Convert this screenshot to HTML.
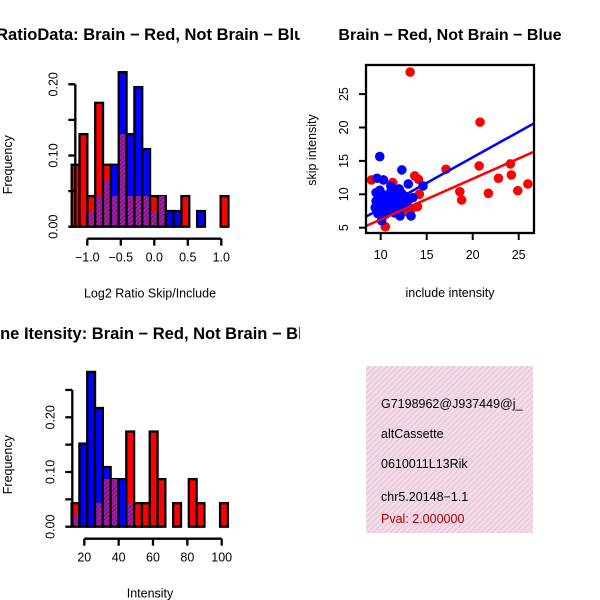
<!DOCTYPE html>
<html><head><meta charset="utf-8"><style>
html,body{margin:0;padding:0;background:#fff;}
svg{display:block;font-family:"Liberation Sans",sans-serif;}
</style></head><body>
<svg id="chart" width="600" height="600" xmlns="http://www.w3.org/2000/svg">
<defs>
<clipPath id="clipL"><rect x="0" y="0" width="300" height="600"/></clipPath>
<clipPath id="clipT"><rect x="366" y="366" width="167" height="167"/></clipPath>
<clipPath id="clipS"><rect x="366" y="65" width="168" height="168"/></clipPath>
<pattern id="hatch" width="4" height="4" patternUnits="userSpaceOnUse" patternTransform="rotate(45)">
<rect width="4" height="4" fill="#f8d8f4"/><rect width="1.3" height="4" fill="#dcd2c4"/></pattern>
<pattern id="purp" width="3" height="3" patternUnits="userSpaceOnUse" patternTransform="rotate(45)">
<rect width="3" height="3" fill="#a020a0"/><rect width="1" height="3" fill="#7a1090"/></pattern>
</defs>
<g id="g1"></g>
<g id="g2"></g>
<g id="g3"></g>
<g>
<rect x="366" y="366" width="167" height="167" fill="url(#hatch)"/>
<g clip-path="url(#clipT)" font-size="12.5">
<text x="381" y="408">G7198962@J937449@j_</text>
<text x="381" y="438">altCassette</text>
<text x="381" y="468">0610011L13Rik</text>
<text x="381" y="501">chr5.20148−1.1</text>
<text x="381" y="523" fill="#b00000">Pval: 2.000000</text>
</g></g>
</svg>
<script>
// ---- histogram 1 data (Log2 ratio) ----
const h1Start = -1.233, h1Width = 0.117;
const h1Red  = [0.087,0.13,0.043,0.174,0.087,0.043,0.13,0.043,0.043,0.043,0.043,0.043,0,0,0.043,0,0,0,0,0.043];
const h1Blue = [0,0,0.022,0.043,0.065,0.087,0.217,0.13,0.196,0.109,0.022,0.043,0.022,0.022,0,0,0.022,0,0,0];
const h1XTicks = [-1.0,-0.5,0.0,0.5,1.0];
const h1XLabels = ["−1.0","−0.5","0.0","0.5","1.0"];
const h1YTicks = [0,0.05,0.1,0.15,0.2];
const h1YLabels = ["0.00","","0.10","","0.20"];
// ---- histogram 2 data (intensity) ----
const h2Start = 12.6, h2Width = 4.55;
const h2Red  = [0.043,0,0,0.043,0.087,0.087,0,0.174,0.043,0.043,0.174,0.087,0,0.043,0,0.087,0.043,0,0,0.043];
const h2Blue = [0.022,0.152,0.283,0.217,0.109,0.087,0.087,0.043,0,0,0,0,0,0,0,0,0,0,0,0];
const h2XTicks = [20,40,60,80,100];
const h2YTicks = [0,0.05,0.1,0.15,0.2,0.25];
const h2YLabels = ["0.00","","0.10","","0.20",""];
// ---- scatter data ----
const redX = [13.2,20.8,17.1,20.7,24.1,22.8,24.2,21.7,24.9,26.0,18.6,18.8,13.7,14.1,9.0,11.3,14.2,14.0,13.4,10.5,12.8,11.8,12.2];
const redY = [28.3,20.8,13.75,14.25,14.55,12.4,12.9,10.15,10.55,11.55,10.4,9.15,12.75,12.25,12.15,11.75,10.0,8.15,7.9,5.15,7.4,8.5,9.0];
const blueX = [9.9,12.3,9.6,10.3,11.1,13.0,14.6,9.5,13.3,12.1,10.1,9.4,9.6,9.8,10.0,10.2,10.4,10.6,10.8,11.0,11.2,11.4,11.6,11.8,12.0,12.2,12.4,12.6,12.8,9.5,9.9,10.3,10.7,11.1,11.5,11.9,12.3,12.7,13.1,10.5,11.0,11.5,12.0,13.5,9.7,10.9];
const blueY = [15.65,13.65,12.4,12.15,11.25,11.55,11.25,10.25,6.75,6.75,6.05,8.0,7.5,8.5,9.2,7.8,8.8,9.6,8.2,9.9,7.6,9.0,10.2,8.4,9.4,7.9,8.9,9.7,8.3,9.0,10.6,9.9,7.3,10.4,9.6,7.7,10.1,8.7,9.3,7.0,8.6,7.2,10.8,9.5,7.1,9.2];
const redLine = [8.4,5.25,26.7,16.4];
const blueLine = [8.4,6.65,26.7,20.65];
const sXTicks = [10,15,20,25];
const sYTicks = [5,10,15,20,25];

const NS="http://www.w3.org/2000/svg";
function mk(parent,tag,attrs){const e=document.createElementNS(NS,tag);for(const k in attrs)e.setAttribute(k,attrs[k]);parent.appendChild(e);return e;}

function hist(g,opt){
  const {start,width,red,blue,x0,xPerUnit,y0,yPerUnit,xTicks,xLabels,yTicks,yLabels,title,xlab,titleY}=opt;
  const sx=v=>x0+(v-opt.xRef)*xPerUnit, sy=v=>y0-v*yPerUnit;
  const cl=mk(g,'g',{'clip-path':'url(#clipL)'});
  const t=mk(cl,'text',{x:opt.titleX,y:titleY,'text-anchor':'middle','font-size':'16.5','font-weight':'bold'});t.textContent=title;
  
  
  for(let i=0;i<red.length;i++){
    const xa=sx(start+i*width), xb=sx(start+(i+1)*width);
    const r=red[i], b=blue[i], hi=Math.max(r,b), lo=Math.min(r,b);
    if(hi>0){
      const bar=mk(g,'rect',{x:xa,y:sy(hi),width:xb-xa,height:sy(0)-sy(hi),fill:r>=b?'#ff0000':'#0000ff',stroke:'#000','stroke-width':2.3});
      
      
    }
    if(lo>0){
      const ov=mk(g,'rect',{x:xa+1.2,y:sy(lo),width:xb-xa-2.4,height:sy(0)-sy(lo)-1.2,fill:'url(#purp)'});
      
      
    }
  }
  const ax=x0-12;
  mk(g,'line',{x1:ax,x2:ax,y1:sy(yTicks[0]),y2:sy(yTicks[yTicks.length-1]),stroke:'#000','stroke-width':2.3});
  yTicks.forEach((v,i)=>{mk(g,'line',{x1:ax-7,x2:ax,y1:sy(v),y2:sy(v),stroke:'#000','stroke-width':2.3});
    if(yLabels[i]){const tx=mk(g,'text',{x:ax-18,y:sy(v),'text-anchor':'middle','font-size':'12.5',transform:`rotate(-90 ${ax-18} ${sy(v)})`});tx.textContent=yLabels[i];
      
      }
  });
  const yl=mk(g,'text',{x:12,y:sy(0)-62,'text-anchor':'middle','font-size':'12.5',transform:`rotate(-90 12 ${sy(0)-62})`});yl.textContent='Frequency';
  
  
  const ay=y0+12;
  mk(g,'line',{x1:sx(xTicks[0]),x2:sx(xTicks[xTicks.length-1]),y1:ay,y2:ay,stroke:'#000','stroke-width':2.3});
  xTicks.forEach((v,i)=>{mk(g,'line',{x1:sx(v),x2:sx(v),y1:ay,y2:ay+7,stroke:'#000','stroke-width':2.3});
    const tx=mk(g,'text',{x:sx(v),y:ay+23,'text-anchor':'middle','font-size':'12.5'});tx.textContent=xLabels[i];
    
    });
  const xl=mk(g,'text',{x:150,y:ay+59,'text-anchor':'middle','font-size':'12.5'});xl.textContent=xlab;
  
  
}
hist(document.getElementById('g1'),{start:h1Start,width:h1Width,red:h1Red,blue:h1Blue,x0:87.3,xRef:-1,xPerUnit:67,y0:226.7,yPerUnit:712,
  xTicks:h1XTicks,xLabels:h1XLabels,yTicks:h1YTicks,yLabels:h1YLabels,title:'Log2RatioData: Brain − Red, Not Brain − Blue',xlab:'Log2 Ratio Skip/Include',titleY:40,titleX:135});
hist(document.getElementById('g3'),{start:h2Start,width:h2Width,red:h2Red,blue:h2Blue,x0:84.3,xRef:20,xPerUnit:1.7175,y0:526.7,yPerUnit:547,
  xTicks:h2XTicks,xLabels:h2XTicks.map(String),yTicks:h2YTicks,yLabels:h2YLabels,title:'Gene Itensity: Brain − Red, Not Brain − Blue',xlab:'Intensity',titleY:339,titleX:150});

(function(){
  const g=document.getElementById('g2');
  const sx=v=>380.7+(v-10)*9.2, sy=v=>227.7-(v-5)*6.68;
  const t=mk(g,'text',{x:450,y:40,'text-anchor':'middle','font-size':'16','font-weight':'bold'});t.textContent='Brain − Red, Not Brain − Blue';
  
  
  const cl=mk(g,'g',{'clip-path':'url(#clipS)'});
  redX.forEach((x,i)=>{const c=mk(cl,'circle',{cx:sx(x),cy:sy(redY[i]),r:4.8,fill:'#ff0000'});
    
    });
  blueX.forEach((x,i)=>{const c=mk(cl,'circle',{cx:sx(x),cy:sy(blueY[i]),r:4.8,fill:'#0000ff'});
    
    });
  const bl=mk(cl,'line',{x1:sx(blueLine[0]),y1:sy(blueLine[1]),x2:sx(blueLine[2]),y2:sy(blueLine[3]),stroke:'#0000ff','stroke-width':2.5});
  
  
  const rl=mk(cl,'line',{x1:sx(redLine[0]),y1:sy(redLine[1]),x2:sx(redLine[2]),y2:sy(redLine[3]),stroke:'#ff0000','stroke-width':2.5});
  
  
  mk(g,'rect',{x:366,y:65,width:168,height:168,fill:'none',stroke:'#000','stroke-width':2.3});
  sXTicks.forEach(v=>{mk(g,'line',{x1:sx(v),x2:sx(v),y1:233,y2:240,stroke:'#000','stroke-width':2});
    const tx=mk(g,'text',{x:sx(v),y:259,'text-anchor':'middle','font-size':'12.5'});tx.textContent=v;
    
    });
  sYTicks.forEach(v=>{mk(g,'line',{x1:359,x2:366,y1:sy(v),y2:sy(v),stroke:'#000','stroke-width':2});
    const tx=mk(g,'text',{x:348,y:sy(v),'text-anchor':'middle','font-size':'12.5',transform:`rotate(-90 348 ${sy(v)})`});tx.textContent=v;
    
    });
  const xl=mk(g,'text',{x:450,y:297,'text-anchor':'middle','font-size':'12.5'});xl.textContent='include intensity';
  
  
  const yl=mk(g,'text',{x:316,y:150,'text-anchor':'middle','font-size':'12.5',transform:'rotate(-90 316 150)'});yl.textContent='skip intensity';
  
  
})();
</script>
</body></html>
